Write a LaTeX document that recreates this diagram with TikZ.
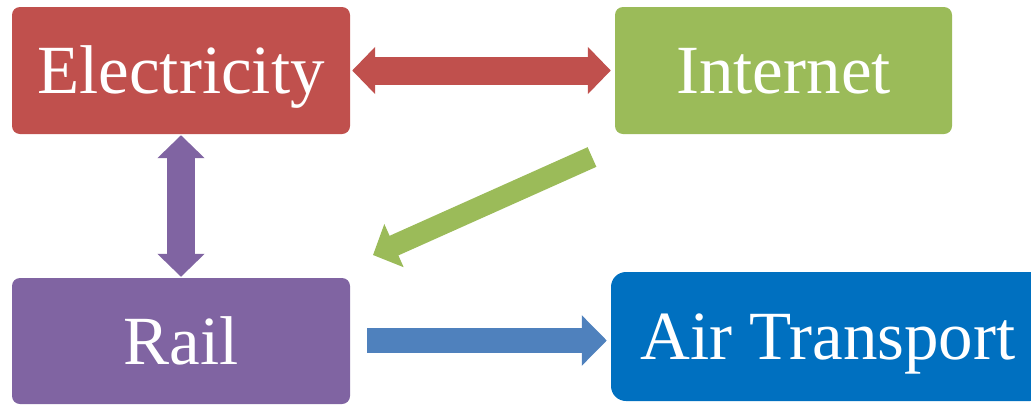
\documentclass[tikz,border=0pt]{standalone}
\usepackage{fontspec}
\setmainfont{Liberation Serif}
\usetikzlibrary{arrows.meta}
\definecolor{cRed}{HTML}{C0504D}
\definecolor{cGreen}{HTML}{9BBB59}
\definecolor{cPurple}{HTML}{8064A2}
\definecolor{cBlue}{HTML}{0070C0}
\definecolor{cBlueArrow}{HTML}{4F81BD}
\tikzset{
  box/.style={rounded corners=8pt, inner sep=0pt, text=white,
    font=\fontsize{69}{80}\selectfont, text height=46pt, text depth=0pt,
    minimum width=338pt, minimum height=127pt},
  blockarrow/.style={line width=28pt,
    arrows={-{Triangle[length=23pt,width=46pt]}}},
  dblockarrow/.style={line width=28pt,
    arrows={{Triangle[length=23pt,width=46pt]}-{Triangle[length=23pt,width=46pt]}}}
}
\begin{document}
\begin{tikzpicture}[x=1pt,y=-1pt]
\useasboundingbox (0,0) rectangle (1031,405);
\node[box, fill=cRed] (E) at (181,70.5) {Electricity};
\node[box, fill=cGreen, minimum width=337pt] (I) at (783.5,70.5) {Internet};
\node[box, fill=cPurple, minimum height=126pt] (R) at (181,341) {Rail};
\node[box, fill=cBlue, minimum width=434pt, minimum height=129pt, rounded corners=15pt] (A) at (828,336.5) {Air Transport};
\coordinate (gs) at (592,157);
\coordinate (ge) at (373,255);
\coordinate (bs) at (367,340.5);
\draw[dblockarrow, draw=cRed, fill=cRed] ([xshift=2pt]E.east) -- ([xshift=-4pt]I.west);
\draw[dblockarrow, draw=cPurple, fill=cPurple] ([yshift=-1pt]E.south) -- ([yshift=1pt]R.north);
\draw[blockarrow, line width=21.5pt, draw=cGreen, fill=cGreen] (gs) -- (ge);
\draw[line width=25pt, draw=cBlueArrow, arrows={-{Triangle[length=25pt,width=49pt]}}] (bs) -- ([xshift=-4pt]bs -| A.west);
\end{tikzpicture}
\end{document}
